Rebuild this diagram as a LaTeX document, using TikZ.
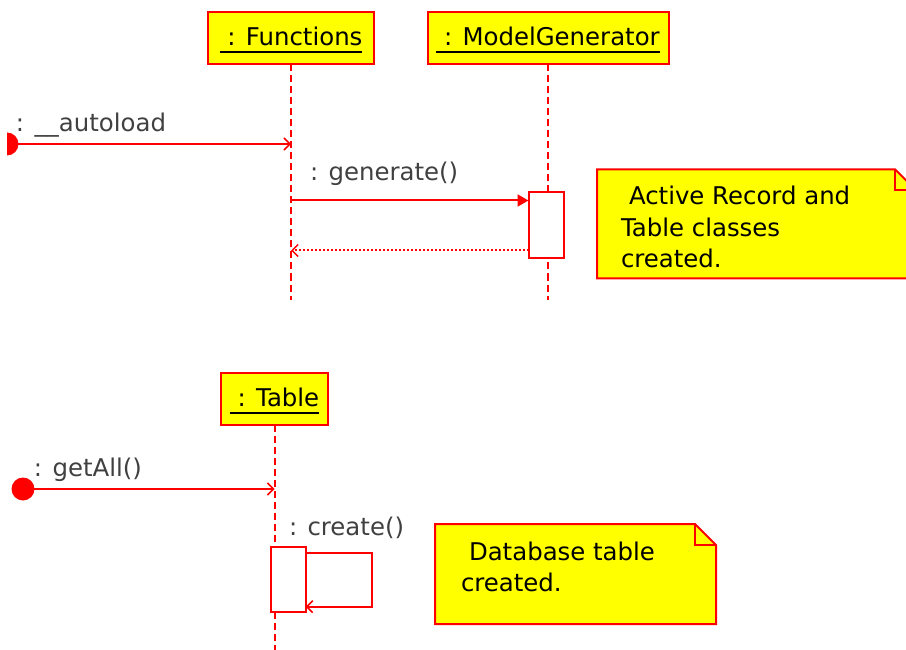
\documentclass[tikz,border=0pt]{standalone}
\usepackage{fontspec}
\setmainfont{DejaVu Sans}
\usetikzlibrary{arrows.meta,calc}
\definecolor{umlred}{RGB}{255,0,0}
\definecolor{umlyellow}{RGB}{255,255,0}
\definecolor{msgtext}{RGB}{64,64,64}
% object name: text with a thick underline of its own width
\newcommand\objname[1]{\setbox0\hbox{#1}\rlap{\copy0}\rule[-7pt]{\wd0}{2pt}}
\begin{document}
\begin{tikzpicture}[x=1pt,y=-1pt,
  every node/.style={inner sep=0pt,outer sep=0pt,font=\fontsize{24.4}{31}\selectfont},
  objbox/.style={draw=umlred,fill=umlyellow,line width=2pt,text height=22pt,text depth=7pt},
  lifeline/.style={draw=umlred,line width=2pt,dash pattern=on 7pt off 4pt},
  actbox/.style={draw=umlred,fill=white,line width=2pt,minimum width=35pt},
  msg/.style={draw=umlred,line width=2pt,-{Straight Barb[length=6pt,width=12pt,line width=1.5pt]}},
  call/.style={draw=umlred,line width=2pt,-{Triangle[length=11pt,width=12pt]}},
  ret/.style={draw=umlred,line width=2pt,dash pattern=on 2pt off 2pt,-{Straight Barb[length=6pt,width=12pt,line width=1.5pt]}},
  start/.style={circle,fill=umlred,minimum size=23pt},
  msglabel/.style={anchor=base west,text=msgtext},
  notetext/.style={anchor=base west,text=black},
  notestyle/.style={draw=umlred,fill=umlyellow,line width=2pt},
  notearea/.style={minimum width=#1,minimum height=100pt}]
\useasboundingbox (0,0) rectangle (906,650);

% ---- upper diagram: objects and lifelines
\node[objbox,minimum width=166pt,minimum height=52pt] (fn) at (291,38.5) {\objname{\ : Functions}};
\node[objbox,minimum width=241pt,minimum height=52pt] (mg) at (548,38.5) {\objname{\ : ModelGenerator}};
\coordinate (fnend) at ($(fn.south)+(0,235)$);
\coordinate (mgend) at ($(mg.south)+(0,235)$);
\draw[lifeline] (fn.south) -- (fnend);
\draw[lifeline] (mg.south) -- (mgend);
\node[actbox,minimum height=66pt] (act1) at (546,225.3) {};

% found message __autoload
\begin{scope}
  \clip (7,0) rectangle (906,650);
  \node[start] (f1) at (7,144) {};
\end{scope}
\coordinate (fn1) at (fn.south |- f1.center);
\draw[msg] (f1.center) -- (fn1);
\node[msglabel] (l1) at (16,132) {: \_\_autoload};

% generate() call and its return
\coordinate (fn2) at ($(fn.south)+(0,136)$);
\coordinate (fn3) at ($(fn.south)+(0,186)$);
\draw[call] (fn2) -- (fn2 -| act1.west);
\draw[ret] (fn3 -| act1.west) -- (fn3);
\node[msglabel] (l2) at (310,181) {: generate()};

% note: classes created
\node[notearea=319pt,minimum height=109pt] (note1) at (756.5,223.8) {};
\draw[notestyle] (note1.north west) -- ([xshift=-21pt]note1.north east)
  -- ([yshift=-21pt]note1.north east) -- (note1.south east) -- (note1.south west) -- cycle;
\draw[notestyle,fill=none] ([xshift=-21pt]note1.north east) -- ([xshift=-21pt,yshift=-21pt]note1.north east)
  -- ([yshift=-21pt]note1.north east);
\node[notetext] (n1a) at (629,205) {Active Record and};
\node[notetext] (n1b) at (621,236.5) {Table classes};
\node[notetext] (n1c) at (621,268) {created.};

% ---- lower diagram
\node[objbox,minimum width=107pt,minimum height=52pt] (tb) at (274.5,399) {\objname{\ : Table}};
\coordinate (tbend) at (274.5,650);
\draw[lifeline] (tb.south) -- (tbend);
\node[actbox,minimum height=65pt] (act2) at (288.2,579.2) {};

% found message getAll()
\node[start] (f2) at (23,489) {};
\coordinate (tb1) at (tb.south |- f2.center);
\draw[msg] (f2.center) -- (tb1);
\node[msglabel] (l3) at (34,476) {: getAll()};

% self call create()
\draw[msg] ([yshift=-6pt]act2.north east) -- ++(66,0) |- ([yshift=5pt]act2.south east);
\node[msglabel] (l4) at (289,535) {: create()};

% note: table created
\node[notearea=281pt] (note2) at (575.5,574) {};
\draw[notestyle] (note2.north west) -- ([xshift=-21pt]note2.north east)
  -- ([yshift=-21pt]note2.north east) -- (note2.south east) -- (note2.south west) -- cycle;
\draw[notestyle,fill=none] ([xshift=-21pt]note2.north east) -- ([xshift=-21pt,yshift=-21pt]note2.north east)
  -- ([yshift=-21pt]note2.north east);
\node[notetext] (n2a) at (469,560) {Database table};
\node[notetext] (n2b) at (461,591) {created.};
\end{tikzpicture}
\end{document}
